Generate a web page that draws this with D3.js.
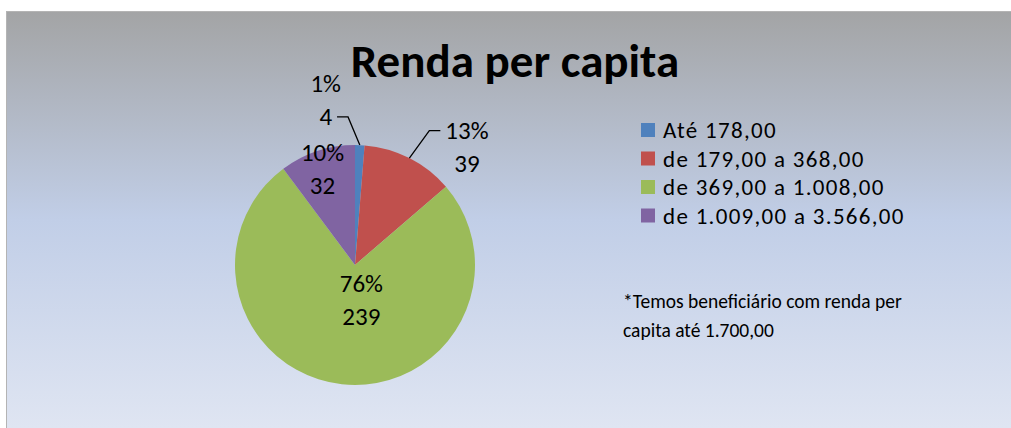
<!DOCTYPE html>
<html>
<head>
<meta charset="utf-8">
<script src="https://cdn.jsdelivr.net/npm/d3@7"></script>
<style>
  body { margin: 0; background: #fff; overflow: hidden; }
  svg { display: block; }
  text { font-family: Carlito, Calibri, Lato, sans-serif; fill: #000; }
</style>
</head>
<body>
<div id="chart"></div>
<script>
// data
var categories = ['Até 178,00', 'de 179,00 a 368,00', 'de 369,00 a 1.008,00', 'de 1.009,00 a 3.566,00']
var counts = [4, 39, 239, 32]
var percentLabels = ['1%', '13%', '76%', '10%']
var colors = ['#4f81bd', '#c0504d', '#9bbb59', '#8064a2']
var title = 'Renda per capita'
var note = ['*Temos beneficiário com renda per', 'capita até 1.700,00']

var width = 1011
var height = 428
var cx = 355
var cy = 265
var radius = 120

// how each data label sits (inside slice or outside with a leader line)
var labelSetup = [
  { outside: true, k: 1.235, nudge: -0.087, side: -1, lineAt: 1 },
  { outside: true, k: 1.28, nudge: 0.035, side: 1, lineAt: 0 },
  { outside: false, k: 0.28, nudge: -0.3 },
  { outside: false, k: 0.86, nudge: 0 }
]

var svg = d3.select('#chart')
  .append('svg')
  .attr('width', width)
  .attr('height', height)

var defs = svg.append('defs')
var grad = defs.append('linearGradient')
  .attr('id', 'bg')
  .attr('gradientUnits', 'userSpaceOnUse')
  .attr('x1', 0).attr('y1', 11)
  .attr('x2', 0).attr('y2', height)
grad.append('stop').attr('offset', '0%').attr('stop-color', '#a3a4a5')
grad.append('stop').attr('offset', '50%').attr('stop-color', '#c1cee7')
grad.append('stop').attr('offset', '100%').attr('stop-color', '#dfe5f2')

svg.append('rect')
  .attr('x', 6.5)
  .attr('y', 11.5)
  .attr('width', width + 40)
  .attr('height', height + 40)
  .attr('fill', 'url(#bg)')
  .attr('stroke', '#b4b4b4')
  .attr('stroke-width', 1)

svg.append('text')
  .text(title)
  .attr('x', 515)
  .attr('y', 77)
  .attr('text-anchor', 'middle')
  .attr('font-size', '47px')
  .style('font-weight', 'bold')

var pie = d3.pie().sort(null).value(function(d) { return d })
var arcs = pie(counts)
var arc = d3.arc().innerRadius(0).outerRadius(radius)

var g = svg.append('g')
  .attr('transform', 'translate(' + cx + ',' + cy + ')')

g.selectAll('.slice')
  .data(arcs)
  .enter()
  .append('path')
  .attr('class', 'slice')
  .attr('d', arc)
  .attr('fill', function(d, i) { return colors[i] })

var lineH = 33

arcs.forEach(function(d, i) {
  var cfg = labelSetup[i]
  var mid = (d.startAngle + d.endAngle) / 2
  var a = mid + cfg.nudge
  var px = Math.sin(a) * radius * cfg.k
  var py = -Math.cos(a) * radius * cfg.k
  var lbl = g.append('text')
    .attr('font-size', '25px')
    .attr('text-anchor', 'middle')

  if (!cfg.outside) {
    lbl.append('tspan').attr('x', px).attr('y', py - 6).text(percentLabels[i])
    lbl.append('tspan').attr('x', px).attr('y', py - 6 + lineH).text(counts[i])
    return
  }

  // leader line: arc edge -> elbow -> short horizontal run
  var sx = Math.sin(mid) * radius
  var sy = -Math.cos(mid) * radius
  var ex = px + cfg.side * 11
  g.append('path')
    .attr('d', 'M' + sx + ',' + sy + 'L' + px + ',' + py + 'L' + ex + ',' + py)
    .attr('fill', 'none')
    .attr('stroke', '#000')
    .attr('stroke-width', 1.3)

  var rows = [percentLabels[i], String(counts[i])]
  var y0 = py + 8 - cfg.lineAt * lineH
  var t1 = lbl.append('tspan').attr('y', y0).text(rows[0])
  var t2 = lbl.append('tspan').attr('y', y0 + lineH).text(rows[1])
  var w = (cfg.lineAt === 0 ? t1 : t2).node().getComputedTextLength()
  var tx = ex + cfg.side * (w / 2 + 5)
  t1.attr('x', tx)
  t2.attr('x', tx)
})

// legend
var legend = svg.append('g')
  .attr('transform', 'translate(641,123)')

var rows = legend.selectAll('.legend-row')
  .data(categories)
  .enter()
  .append('g')
  .attr('class', 'legend-row')
  .attr('transform', function(d, i) { return 'translate(0,' + i * 28.5 + ')' })

rows.append('rect')
  .attr('width', 14)
  .attr('height', 14)
  .attr('fill', function(d, i) { return colors[i] })

rows.append('text')
  .text(function(d) { return d })
  .attr('x', 22)
  .attr('y', 15)
  .attr('font-size', '23px')
  .attr('letter-spacing', '1.3px')

svg.append('g')
  .selectAll('text')
  .data(note)
  .enter()
  .append('text')
  .text(function(d) { return d })
  .attr('x', 623)
  .attr('y', function(d, i) { return 308 + i * 29 })
  .attr('font-size', '19.5px')
</script>
</body>
</html>
